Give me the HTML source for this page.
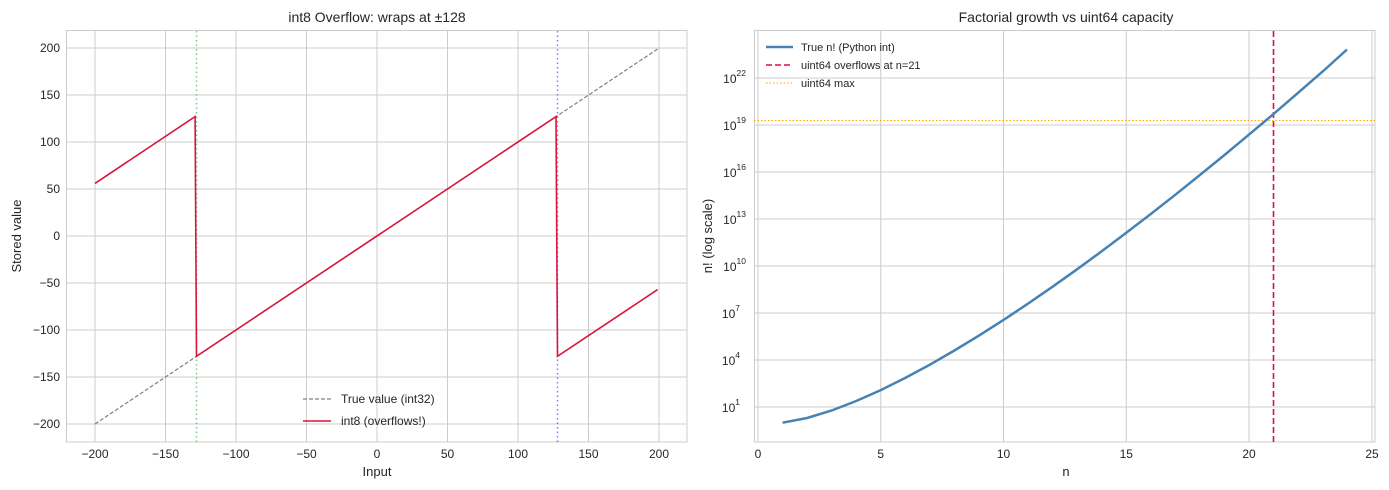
<!DOCTYPE html>
<html><head><style>body{margin:0;background:#fff}svg{display:block}text{font-family:"Liberation Sans",sans-serif;fill:#262626}</style></head><body>
<svg width="1389" height="490" viewBox="0 0 1389 490">
<rect width="1389" height="490" fill="#fff"/>
<!-- LEFT -->
<g stroke="#cccccc" stroke-width="1">
<line x1="95" y1="30" x2="95" y2="442"/><line x1="165.5" y1="30" x2="165.5" y2="442"/><line x1="236" y1="30" x2="236" y2="442"/><line x1="306.5" y1="30" x2="306.5" y2="442"/><line x1="377" y1="30" x2="377" y2="442"/><line x1="447.5" y1="30" x2="447.5" y2="442"/><line x1="518" y1="30" x2="518" y2="442"/><line x1="588.5" y1="30" x2="588.5" y2="442"/><line x1="659" y1="30" x2="659" y2="442"/>
<line x1="66" y1="48" x2="687" y2="48"/><line x1="66" y1="95" x2="687" y2="95"/><line x1="66" y1="142" x2="687" y2="142"/><line x1="66" y1="189" x2="687" y2="189"/><line x1="66" y1="236" x2="687" y2="236"/><line x1="66" y1="283" x2="687" y2="283"/><line x1="66" y1="330" x2="687" y2="330"/><line x1="66" y1="377" x2="687" y2="377"/><line x1="66" y1="424" x2="687" y2="424"/>
</g>
<rect x="66.5" y="30.5" width="620.5" height="411.5" fill="none" stroke="#cccccc"/>
<line x1="196.5" y1="31" x2="196.5" y2="442" stroke="#2ca02c" stroke-opacity="0.6" stroke-width="1.5" stroke-dasharray="1.5,3"/>
<line x1="557.5" y1="31" x2="557.5" y2="442" stroke="#0000ff" stroke-opacity="0.5" stroke-width="1.5" stroke-dasharray="1.5,3"/>
<line x1="95" y1="424" x2="657.6" y2="49" stroke="#808080" stroke-width="1.2" stroke-dasharray="4,2"/>
<polyline points="95,183.4 195.1,116.6 196.5,356.3 556,116.6 557.5,356.3 657.6,289.6" fill="none" stroke="#dc143c" stroke-width="1.6"/>
<g font-size="12" text-anchor="end">
<text x="60" y="52">200</text><text x="60" y="99">150</text><text x="60" y="146">100</text><text x="60" y="193">50</text><text x="60" y="240">0</text><text x="60" y="287">−50</text><text x="60" y="334">−100</text><text x="60" y="381">−150</text><text x="60" y="428">−200</text>
</g>
<g font-size="12" text-anchor="middle">
<text x="95" y="458">−200</text><text x="165.5" y="458">−150</text><text x="236" y="458">−100</text><text x="306.5" y="458">−50</text><text x="377" y="458">0</text><text x="447.5" y="458">50</text><text x="518" y="458">100</text><text x="588.5" y="458">150</text><text x="659" y="458">200</text>
<text x="377" y="476" font-size="13">Input</text>
<text x="377" y="22" font-size="14">int8 Overflow: wraps at ±128</text>
<text transform="translate(21,236) rotate(-90)" font-size="13">Stored value</text>
</g>
<line x1="303" y1="399" x2="331" y2="399" stroke="#808080" stroke-width="1.2" stroke-dasharray="4,2"/>
<line x1="303" y1="421" x2="331" y2="421" stroke="#dc143c" stroke-width="1.6"/>
<text x="341" y="403" font-size="12">True value (int32)</text>
<text x="341" y="425" font-size="12">int8 (overflows!)</text>
<!-- RIGHT -->
<g stroke="#cccccc" stroke-width="1">
<line x1="758" y1="30" x2="758" y2="442"/><line x1="880.75" y1="30" x2="880.75" y2="442"/><line x1="1003.5" y1="30" x2="1003.5" y2="442"/><line x1="1126.25" y1="30" x2="1126.25" y2="442"/><line x1="1249" y1="30" x2="1249" y2="442"/><line x1="1372" y1="30" x2="1372" y2="442"/>
<line x1="754" y1="407" x2="1375" y2="407"/><line x1="754" y1="360" x2="1375" y2="360"/><line x1="754" y1="313" x2="1375" y2="313"/><line x1="754" y1="266" x2="1375" y2="266"/><line x1="754" y1="219" x2="1375" y2="219"/><line x1="754" y1="172" x2="1375" y2="172"/><line x1="754" y1="125" x2="1375" y2="125"/><line x1="754" y1="78" x2="1375" y2="78"/>
</g>
<rect x="754.5" y="30.5" width="620.5" height="411.5" fill="none" stroke="#cccccc"/>
<line x1="754" y1="120.5" x2="1375" y2="120.5" stroke="#ffa500" stroke-width="1" stroke-dasharray="1.5,2"/>
<line x1="1273.5" y1="31" x2="1273.5" y2="442" stroke="#dc143c" stroke-width="1.6" stroke-dasharray="6,3"/>
<polyline points="782.6,422.7 807.1,418 831.7,410.5 856.2,401 880.8,390.1 905.3,377.9 929.9,364.7 954.4,350.5 979,335.6 1003.5,319.9 1028.1,303.6 1052.6,286.7 1077.2,269.2 1101.7,251.3 1126.3,232.8 1150.8,214 1175.4,194.7 1199.9,175 1224.5,155 1249,134.6 1273.6,113.9 1298.1,92.8 1322.7,71.5 1347,49.5" fill="none" stroke="#4682b4" stroke-width="2.5"/>
<g font-size="12" text-anchor="end">
<text x="740" y="412">10<tspan font-size="8.5" dy="-7">1</tspan></text>
<text x="740" y="365">10<tspan font-size="8.5" dy="-7">4</tspan></text>
<text x="740" y="318">10<tspan font-size="8.5" dy="-7">7</tspan></text>
<text x="746" y="271">10<tspan font-size="8.5" dy="-7">10</tspan></text>
<text x="746" y="224">10<tspan font-size="8.5" dy="-7">13</tspan></text>
<text x="746" y="177">10<tspan font-size="8.5" dy="-7">16</tspan></text>
<text x="746" y="130">10<tspan font-size="8.5" dy="-7">19</tspan></text>
<text x="746" y="83">10<tspan font-size="8.5" dy="-7">22</tspan></text>
</g>
<g font-size="12" text-anchor="middle">
<text x="758" y="458">0</text><text x="880.75" y="458">5</text><text x="1003.5" y="458">10</text><text x="1126.25" y="458">15</text><text x="1249" y="458">20</text><text x="1372" y="458">25</text>
<text x="1066" y="476" font-size="13">n</text>
<text x="1066" y="22" font-size="14">Factorial growth vs uint64 capacity</text>
<text transform="translate(712,236) rotate(-90)" font-size="13">n! (log scale)</text>
</g>
<line x1="766" y1="47" x2="793" y2="47" stroke="#4682b4" stroke-width="2.5"/>
<line x1="766" y1="65" x2="793" y2="65" stroke="#dc143c" stroke-width="1.6" stroke-dasharray="6,3"/>
<line x1="766" y1="83" x2="793" y2="83" stroke="#ffa500" stroke-width="1" stroke-dasharray="1.5,2"/>
<g font-size="11"><text x="801" y="51">True n! (Python int)</text><text x="801" y="69">uint64 overflows at n=21</text><text x="801" y="87">uint64 max</text></g>
</svg>
</body></html>
